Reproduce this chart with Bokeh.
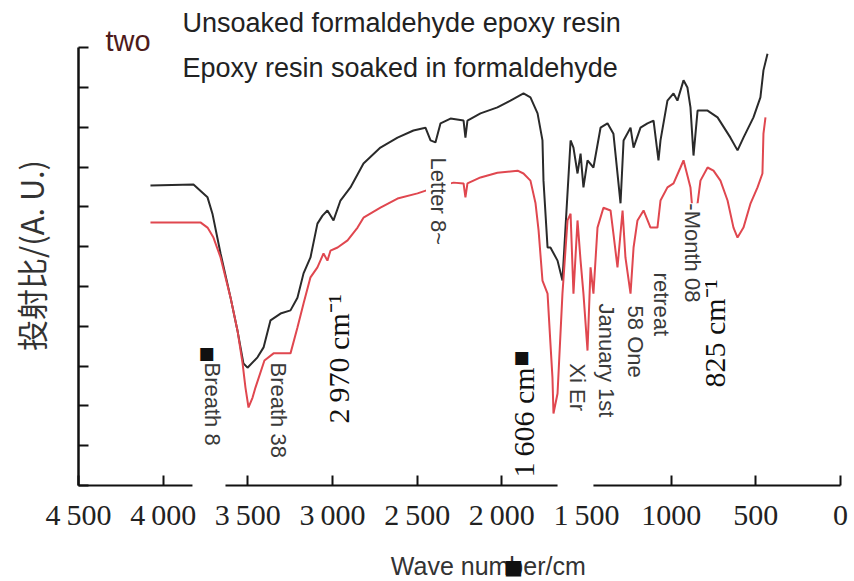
import math
from bokeh.plotting import figure
from bokeh.models import Range1d, FixedTicker, Label, BoxAnnotation
from bokeh.embed import file_html
from bokeh.resources import INLINE

# ---------------- data ----------------
wn_black = [4075, 3821, 3738, 3709, 3661, 3602, 3561, 3526, 3502, 3443, 3407, 3366, 3307, 3248, 3207,
            3171, 3130, 3089, 3059, 3030, 2994, 2953, 2894, 2817, 2717, 2616, 2522, 2451, 2421, 2392,
            2362, 2303, 2226, 2215, 2203, 2126, 2026, 1949, 1872, 1831, 1789, 1760, 1754, 1730, 1713,
            1671, 1642, 1624, 1594, 1577, 1553, 1535, 1518, 1494, 1459, 1417, 1376, 1341, 1299, 1281,
            1240, 1222, 1181, 1140, 1104, 1075, 1063, 1022, 986, 963, 927, 904, 886, 868, 844,
            785, 726, 650, 608, 573, 514, 473, 455, 431]
t_black = [7.54, 7.56, 7.24, 6.83, 5.83, 4.72, 3.89, 3.07, 2.96, 3.22, 3.47, 4.15, 4.32, 4.40, 4.72,
           5.33, 5.73, 6.58, 6.78, 6.91, 6.66, 7.16, 7.49, 8.09, 8.49, 8.74, 8.92, 8.99, 8.67, 8.62,
           9.10, 9.22, 9.17, 8.74, 9.17, 9.35, 9.50, 9.67, 9.85, 9.75, 9.35, 8.67, 7.66, 5.98, 5.98,
           5.65, 5.15, 6.48, 8.67, 8.49, 7.84, 8.34, 7.49, 8.17, 7.99, 8.99, 9.10, 8.84, 7.09, 8.67,
           8.99, 8.49, 8.99, 9.10, 9.17, 8.17, 8.67, 9.67, 9.85, 9.67, 10.18, 10.00, 9.50, 8.29, 9.42,
           9.42, 9.25, 8.74, 8.42, 8.74, 9.25, 9.75, 10.43, 10.85]

wn_red = [4075, 3780, 3738, 3703, 3661, 3602, 3561, 3531, 3514, 3496, 3472, 3455, 3402, 3348, 3248,
          3207, 3171, 3130, 3089, 3053, 3030, 3012, 2970, 2911, 2852, 2817, 2717, 2616, 2498, 2392,
          2285, 2226, 2215, 2203, 2126, 2026, 1907, 1872, 1831, 1801, 1783, 1760, 1730, 1713, 1701,
          1695, 1671, 1642, 1612, 1594, 1577, 1553, 1535, 1518, 1494, 1476, 1459, 1435, 1400, 1358,
          1341, 1317, 1287, 1270, 1240, 1222, 1199, 1163, 1122, 1081, 1063, 1022, 986, 945, 927,
          886, 874, 844, 827, 785, 750, 709, 667, 632, 608, 573, 531, 490, 461, 455, 443]
t_red = [6.61, 6.61, 6.48, 6.23, 5.73, 4.72, 3.89, 3.07, 2.46, 1.96, 2.21, 2.46, 3.14, 3.32, 3.32,
         3.97, 4.57, 5.23, 5.48, 5.83, 5.65, 5.90, 5.98, 6.16, 6.48, 6.73, 6.98, 7.21, 7.34, 7.49,
         7.61, 7.59, 7.24, 7.59, 7.74, 7.86, 7.91, 7.84, 7.66, 7.09, 6.41, 5.15, 4.82, 3.57, 2.71,
         1.81, 2.31, 4.82, 6.66, 6.83, 4.82, 6.66, 5.65, 4.82, 3.39, 5.48, 4.82, 6.48, 6.98, 6.91,
         6.33, 5.48, 6.91, 5.73, 4.82, 5.98, 6.66, 6.91, 6.48, 6.48, 7.16, 7.49, 7.59, 7.99, 8.17,
         7.49, 6.91, 7.09, 7.66, 7.99, 7.91, 7.66, 7.16, 6.48, 6.23, 6.48, 7.09, 7.49, 7.84, 8.84, 9.25]

x_ticks = [4500, 4000, 3500, 3000, 2500, 2000, 1500, 1000, 500, 0]
x_tick_labels = ["4\u2009500", "4\u2009000", "3\u2009500", "3\u2009000", "2\u2009500",
                 "2\u2009000", "1\u2009500", "1000", "500", "0"]
y_ticks = list(range(0, 12))

series_names = ["Unsoaked formaldehyde epoxy resin", "Epoxy resin soaked in formaldehyde"]
y_label = "投射比/(A. U.)"
x_label = "Wave number/cm"

# peak annotations: (text, wavenumber, value, direction, style)
peak_labels = [
    ("Breath 8", 3709, 3.09, "down", "sans"),
    ("Breath 38", 3319, 3.09, "down", "sans"),
    ("2\u2009970 cm\u207b\u00b9", 2965, 1.56, "up", "serif"),
    ("Letter 8~", 2374, 8.24, "down", "sans"),
    ("1\u2009606 cm", 1872, 0.20, "up", "serif"),
    ("825 cm\u207b\u00b9", 744, 2.46, "up", "serif"),
    ("Xi Er", 1553, 3.07, "down", "sans"),
    ("January 1st", 1382, 4.57, "down", "sans"),
    ("58 One", 1211, 4.52, "down", "sans"),
    ("retreat", 1057, 5.35, "down", "sans"),
    ("-Month 08", 874, 7.09, "down", "sans"),
]
square_marks = [(3744, 3.34), (1884, 3.22)]
axis_gaps = [(3827, 3632), (1671, 1459)]

# ---------------- figure ----------------
# the frame fills the whole canvas; axes are placed at fixed data locations
p = figure(width=854, height=581, output_backend="svg", toolbar_location=None,
           x_range=Range1d(4960.6, -82.7), y_range=Range1d(-2.412, 12.186),
           min_border_left=0, min_border_right=0, min_border_top=0, min_border_bottom=0)
p.outline_line_color = None
p.xgrid.visible = False
p.ygrid.visible = False
p.background_fill_color = "white"
p.border_fill_color = "white"

p.line(wn_black, t_black, line_color="#2a2a2a", line_width=2)
p.line(wn_red, t_red, line_color="#e0474f", line_width=2)

xa = p.xaxis[0]
xa.fixed_location = 0
xa.bounds = (0, 4500)
xa.ticker = FixedTicker(ticks=x_ticks)
xa.major_label_overrides = {t: s for t, s in zip(x_ticks, x_tick_labels)}
xa.major_label_text_font = "Liberation Serif"
xa.major_label_text_font_size = "30px"
xa.major_label_text_color = "#222222"
xa.major_label_standoff = 12
xa.major_tick_in = 10
xa.major_tick_out = 0
xa.minor_tick_line_color = None
xa.axis_line_width = 2
xa.major_tick_line_width = 2
xa.axis_line_color = "#111111"
xa.major_tick_line_color = "#111111"

ya = p.yaxis[0]
ya.fixed_location = 4500
ya.bounds = (0, 11)
ya.ticker = FixedTicker(ticks=y_ticks)
ya.major_label_text_color = None
ya.major_label_text_alpha = 0
ya.major_label_standoff = 0
ya.major_tick_in = 10
ya.major_tick_out = 0
ya.minor_tick_line_color = None
ya.axis_line_width = 2.5
ya.major_tick_line_width = 2
ya.axis_line_color = "#111111"
ya.major_tick_line_color = "#111111"

# white patches where the original labels' boxes cut the x axis
for left, right in axis_gaps:
    p.add_layout(BoxAnnotation(left=right, right=left, bottom=-0.12, top=0.3,
                               fill_color="white", fill_alpha=1, line_color=None, level="overlay"))

# header texts
p.add_layout(Label(x=4341, y=11.18, text="two", text_font="Liberation Sans", text_font_size="29px",
                   text_color="#4e1b1b", text_align="left", text_baseline="middle"))
p.add_layout(Label(x=3886, y=11.63, text=series_names[0], text_font="Liberation Sans",
                   text_font_size="27px", text_color="#222222", text_align="left", text_baseline="middle"))
p.add_layout(Label(x=3886, y=10.48, text=series_names[1], text_font="Liberation Sans",
                   text_font_size="27px", text_color="#222222", text_align="left", text_baseline="middle"))

# axis titles
p.add_layout(Label(x=4783, y=5.78, text=y_label, angle=math.pi / 2, text_font="Noto Sans CJK SC",
                   text_font_size="31px", text_color="#333333", text_align="center", text_baseline="middle"))
p.add_layout(Label(x=2080, y=-2.01, text=x_label, text_font="Liberation Sans", text_font_size="25px",
                   text_color="#333333", text_align="center", text_baseline="middle"))
p.add_layout(Label(x=1931, y=-2.06, text="\u25a0", text_font="DejaVu Sans", text_font_size="20px",
                   text_color="#111111", text_align="center", text_baseline="middle"))

# peak labels
for txt, xw, yv, d, style in peak_labels:
    ang = -math.pi / 2 if d == "down" else math.pi / 2
    if style == "sans":
        font, size, col = "Liberation Sans", "22px", "#3a3a3a"
    else:
        font, size, col = "Liberation Serif", "30px", "#111111"
    p.add_layout(Label(x=xw, y=yv, text=txt, angle=ang, text_font=font, text_font_size=size,
                       text_color=col, text_align="left", text_baseline="middle",
                       background_fill_color="white"))

for xw, yv in square_marks:
    p.add_layout(Label(x=xw, y=yv, text="\u25a0", text_font="DejaVu Sans", text_font_size="17px",
                       text_color="#111111", text_align="center", text_baseline="middle"))

open("out.html", "w").write(file_html(p, INLINE))
